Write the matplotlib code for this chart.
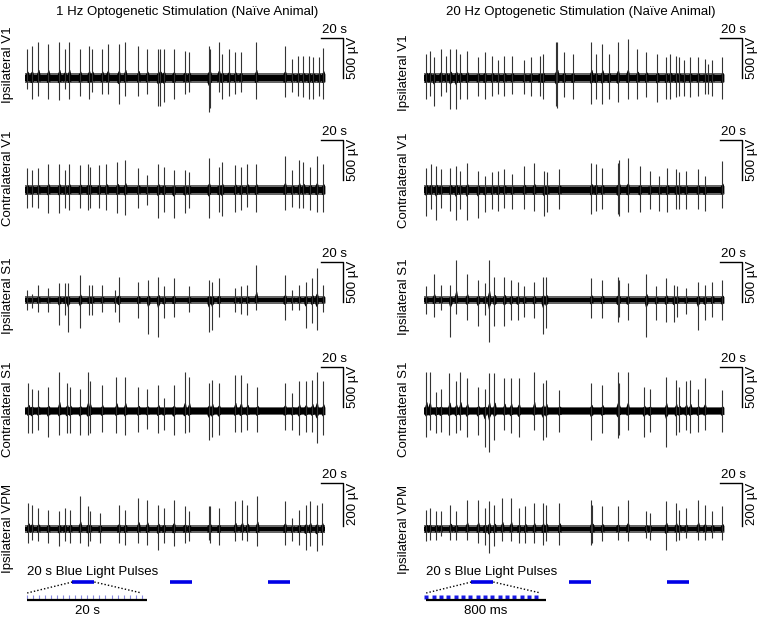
import numpy as np
import matplotlib.pyplot as plt

# -------------------- Font settings ---------------------
font_size = 9.5
plt.rcParams['font.family'] = ['Liberation Sans', 'DejaVu Sans']

# ================= Data =================
trace_len = 272.7          # s shown per trace
pulse_onsets = [43, 132, 221]   # s, blue light epochs
pulse_dur = 20                  # s
n_pulses_1hz = 20               # pulses in a 20 s epoch at 1 Hz
n_pulses_20hz = 16              # pulses in 800 ms at 20 Hz

# spike events: (time s, upward peak uV, downward peak uV)
ipsi_v1_1hz = [(2, 360, 140), (6, 400, 260), (12, 450, 220), (21, 430, 260), (31, 450, 280),
               (36, 360, 140), (40, 450, 260), (50, 360, 220), (58, 400, 260), (61, 360, 180),
               (70, 360, 200), (75, 430, 200), (85, 430, 330), (91, 450, 220), (103, 400, 220),
               (111, 360, 200), (121, 360, 350), (123, 360, 350), (126, 360, 300), (135, 360, 260),
               (145, 340, 200), (149, 320, 180), (167, 400, 430), (168, 360, 370), (176, 450, 180),
               (179, 300, 260), (185, 360, 220), (191, 320, 200), (196, 320, 180), (210, 450, 260),
               (236, 400, 240), (243, 240, 180), (248, 280, 220), (253, 280, 240), (258, 280, 260),
               (262, 260, 260), (267, 260, 220), (271, 380, 260)]
ipsi_v1_20hz = [(2, 300, 260), (5, 340, 220), (9, 260, 350), (15, 360, 220), (20, 280, 180),
                (24, 360, 390), (29, 360, 390), (33, 300, 260), (39, 340, 260), (49, 260, 220),
                (55, 320, 260), (62, 280, 220), (67, 220, 200), (73, 280, 220), (80, 280, 200),
                (91, 220, 200), (97, 260, 220), (105, 280, 220), (108, 300, 260), (120, 450, 350),
                (121, 450, 370), (127, 320, 240), (135, 300, 260), (152, 450, 330), (156, 300, 260),
                (162, 430, 330), (168, 300, 260), (176, 450, 300), (185, 490, 260), (194, 360, 260),
                (202, 320, 240), (212, 300, 300), (220, 260, 260), (224, 300, 260), (229, 280, 240),
                (232, 260, 220), (236, 220, 220), (242, 260, 240), (249, 260, 220), (255, 240, 200),
                (258, 180, 200), (262, 220, 220), (271, 260, 260)]
contra_v1_1hz = [(2, 270, 230), (6, 250, 210), (12, 270, 230), (21, 330, 290), (31, 330, 290),
                 (36, 250, 230), (40, 330, 250), (50, 310, 230), (57, 330, 250), (59, 290, 230),
                 (67, 310, 230), (74, 330, 250), (84, 350, 290), (91, 380, 310), (103, 270, 230),
                 (111, 190, 190), (121, 330, 350), (126, 290, 270), (135, 250, 350), (145, 250, 290),
                 (149, 230, 230), (167, 400, 350), (176, 290, 270), (179, 350, 330), (191, 310, 270),
                 (196, 290, 250), (202, 330, 210), (210, 330, 270), (236, 420, 250), (243, 250, 210),
                 (249, 380, 230), (253, 350, 230), (259, 290, 250), (265, 420, 270), (271, 330, 270)]
contra_v1_20hz = [(2, 280, 330), (6, 320, 240), (11, 300, 370), (15, 260, 220), (24, 280, 260),
                  (29, 300, 370), (33, 240, 240), (39, 340, 370), (49, 240, 350), (55, 180, 280),
                  (62, 220, 240), (67, 240, 260), (73, 260, 220), (80, 200, 240), (91, 300, 240),
                  (100, 340, 260), (109, 240, 330), (112, 220, 280), (123, 260, 240), (152, 340, 300),
                  (156, 320, 260), (162, 280, 240), (176, 340, 300), (177, 380, 330), (185, 400, 280),
                  (196, 300, 280), (205, 240, 240), (214, 180, 260), (221, 280, 280), (229, 260, 240),
                  (232, 220, 240), (238, 240, 240), (249, 260, 240), (255, 180, 260), (271, 360, 220)]
ipsi_s1_1hz = [(2, 130, 130), (6, 80, 100), (12, 190, 150), (21, 150, 150), (31, 210, 310),
               (36, 210, 190), (39, 210, 400), (50, 310, 350), (58, 190, 190), (61, 190, 190),
               (70, 190, 150), (82, 130, 150), (85, 290, 270), (103, 230, 230), (112, 250, 420),
               (121, 290, 460), (126, 170, 230), (135, 270, 210), (149, 170, 150), (167, 250, 400),
               (170, 230, 380), (176, 270, 210), (191, 150, 150), (196, 170, 170), (202, 190, 190),
               (210, 440, 130), (236, 310, 250), (243, 130, 130), (249, 190, 130), (255, 230, 350),
               (261, 270, 290), (265, 400, 380), (271, 190, 150)]
ipsi_s1_20hz = [(2, 170, 170), (9, 330, 210), (15, 190, 130), (24, 190, 460), (29, 500, 170),
                (39, 330, 250), (49, 250, 330), (55, 210, 190), (59, 500, 520), (64, 290, 330),
                (73, 290, 330), (79, 250, 250), (85, 230, 250), (91, 170, 210), (100, 230, 230),
                (108, 290, 420), (111, 290, 350), (152, 270, 230), (162, 250, 230), (176, 290, 270),
                (177, 250, 210), (185, 210, 250), (202, 330, 460), (211, 170, 250), (220, 270, 270),
                (227, 190, 270), (230, 170, 210), (238, 150, 170), (249, 230, 380), (255, 190, 250),
                (262, 230, 210), (271, 250, 250)]
contra_s1_1hz = [(3, 350, 280), (6, 280, 280), (12, 260, 240), (21, 300, 320), (31, 490, 300),
                 (38, 350, 280), (41, 300, 280), (50, 280, 300), (57, 490, 300), (59, 370, 280),
                 (70, 330, 260), (83, 430, 280), (91, 430, 300), (103, 300, 260), (111, 280, 220),
                 (121, 330, 280), (126, 160, 240), (135, 330, 300), (145, 490, 280), (149, 430, 260),
                 (167, 350, 360), (170, 390, 320), (176, 350, 300), (191, 450, 260), (196, 450, 260),
                 (202, 350, 240), (211, 300, 260), (236, 350, 240), (243, 220, 240), (249, 370, 300),
                 (255, 370, 260), (261, 390, 260), (265, 490, 400), (271, 370, 300)]
contra_s1_20hz = [(2, 490, 320), (5, 490, 240), (11, 240, 280), (15, 280, 260), (23, 470, 300),
                  (29, 370, 280), (33, 490, 240), (39, 410, 320), (49, 300, 300), (55, 280, 450),
                  (59, 470, 510), (64, 470, 360), (73, 410, 240), (79, 410, 280), (86, 410, 320),
                  (100, 490, 240), (108, 350, 360), (111, 390, 320), (123, 260, 260), (152, 350, 360),
                  (162, 330, 280), (176, 490, 340), (177, 350, 300), (185, 490, 240), (200, 300, 320),
                  (205, 280, 260), (220, 430, 450), (229, 390, 300), (232, 300, 260), (238, 370, 240),
                  (242, 390, 280), (249, 280, 260), (255, 410, 240), (271, 260, 260)]
ipsi_vpm_1hz = [(3, 120, 65), (6, 113, 50), (12, 98, 57), (21, 90, 65), (31, 82, 81),
                (36, 98, 57), (41, 90, 65), (50, 152, 65), (57, 105, 81), (59, 82, 57),
                (68, 74, 65), (85, 113, 65), (91, 90, 73), (103, 144, 65), (111, 136, 73),
                (121, 113, 96), (126, 98, 65), (135, 136, 81), (145, 105, 65), (149, 82, 57),
                (167, 105, 50), (168, 105, 65), (176, 98, 73), (191, 129, 57), (197, 136, 50),
                (202, 113, 57), (211, 152, 81), (236, 129, 73), (243, 51, 57), (249, 90, 73),
                (255, 113, 96), (259, 129, 81), (265, 113, 104), (270, 121, 73)]
ipsi_vpm_20hz = [(2, 90, 57), (5, 98, 50), (11, 82, 50), (15, 82, 34), (24, 113, 50),
                 (29, 82, 50), (39, 136, 50), (49, 136, 65), (55, 98, 73), (59, 129, 112),
                 (64, 113, 81), (71, 144, 57), (79, 144, 57), (86, 98, 65), (92, 105, 65),
                 (100, 121, 65), (108, 121, 73), (111, 113, 57), (123, 121, 73), (152, 136, 73),
                 (153, 113, 65), (162, 105, 57), (176, 105, 50), (185, 136, 57), (202, 82, 42),
                 (205, 74, 50), (220, 129, 96), (229, 121, 57), (232, 90, 50), (238, 98, 42),
                 (249, 136, 50), (255, 113, 50), (262, 82, 42), (271, 105, 50)]

titles = ['1 Hz Optogenetic Stimulation (Naïve Animal)',
          '20 Hz Optogenetic Stimulation (Naïve Animal)']
row_labels = ['Ipsilateral V1', 'Contralateral V1', 'Ipsilateral S1',
              'Contralateral S1', 'Ipsilateral VPM']
scale_uv = [500, 500, 500, 500, 200]
noise_uv = [50, 50, 40, 45, 16]
inset_labels = ['20 s', '800 ms']

traces = [[ipsi_v1_1hz, contra_v1_1hz, ipsi_s1_1hz, contra_s1_1hz, ipsi_vpm_1hz],
          [ipsi_v1_20hz, contra_v1_20hz, ipsi_s1_20hz, contra_s1_20hz, ipsi_vpm_20hz]]

# ================= Layout (pixels) =================
W, H = 762, 617
fig = plt.figure(figsize=(W / 100, H / 100), dpi=100)


def px_axes(x0, top, w, h):
    ax = fig.add_axes([x0 / W, 1 - (top + h) / H, w / W, h / H])
    ax.set_axis_off()
    return ax


panel_x = [25, 424]
baselines = [78, 190, 300, 411, 529]
bar_offset = [0, 125, -25, 50, 15]       # uV, bottom of vertical scale bar
label_y = [[65, 178, 296, 409, 528], [73, 180, 297, 409, 529]]
label_x = [8, 404]
title_x = [187, 581]

for p in range(2):
    fig.text(title_x[p] / W, 1 - 12 / H, titles[p], ha='center', va='center',
             fontsize=font_size)
    for r in range(5):
        ax = px_axes(panel_x[p], baselines[r] - 50, 300, 100)
        upx = scale_uv[r] / 40 if r < 4 else scale_uv[r] / 43   # uV per pixel
        ax.set_xlim(0, trace_len)
        ax.set_ylim(-50 * upx, 50 * upx)

        ev = np.array(traces[p][r], dtype=float)
        t, up, dn = ev[:, 0], ev[:, 1], ev[:, 2]
        nz = noise_uv[r]

        # background activity band
        ax.fill_between([0, trace_len], -nz * 1.15, nz * 1.15, color='0.4', lw=0)
        ax.fill_between([0, trace_len], -nz * 0.7, nz * 0.7, color='black', lw=0)
        # bursts around each discharge
        for ti, u, d in zip(t, up, dn):
            ax.fill_between([ti - 1.6, ti - 0.4, ti + 0.6, ti + 1.6],
                            [-nz, -0.22 * d, -0.15 * d, -nz],
                            [nz, 0.2 * u, 0.24 * u, nz], color='black', lw=0)
        # spikes
        ax.vlines(t, -dn, up, color='0.2', lw=0.8)

        # scale bars
        b0 = bar_offset[r]
        ax.plot([269, 289, 289], [b0 + scale_uv[r], b0 + scale_uv[r], b0],
                color='black', lw=1, clip_on=False)
        ax.text(281, b0 + scale_uv[r] + 2 * upx, '20 s', ha='center', va='bottom',
                fontsize=font_size)
        ax.text(298, b0 + scale_uv[r] / 2, f'{scale_uv[r]} µV', rotation=90,
                ha='center', va='center', fontsize=font_size)

        fig.text(label_x[p] / W, 1 - label_y[p][r] / H, row_labels[r], rotation=90,
                 ha='center', va='center', fontsize=font_size)

    # ---- light pulse annotation ----
    pax = px_axes(panel_x[p], 565, 300, 52)
    pax.set_xlim(0, trace_len)
    pax.set_ylim(617, 565)
    pax.text(2, 572, '20 s Blue Light Pulses', ha='left', va='center', fontsize=font_size)
    for on in pulse_onsets:
        pax.plot([on, on + pulse_dur], [582, 582], color='#0000e6', lw=2.6,
                 solid_capstyle='butt')
    x_lo, x_hi, x_line = 2, 106, 111
    pax.plot([pulse_onsets[0], x_lo], [582, 593], color='black', lw=1, ls=(0, (1, 1.5)))
    pax.plot([pulse_onsets[0] + pulse_dur, x_hi], [582, 593], color='black', lw=1,
             ls=(0, (1, 1.5)))
    if p == 0:
        ticks = np.linspace(x_lo, x_hi, n_pulses_1hz)
        pax.vlines(ticks, 595, 599, color='#8a8ae0', lw=0.8)
    else:
        ticks = np.linspace(x_lo, x_hi - 4, n_pulses_20hz)
        pax.plot(ticks, [597] * len(ticks), ls='none', marker='s', ms=2.2,
                 color='#1a1ae6', mec='none')
    pax.plot([x_lo, x_line], [600.5, 600.5], color='black', lw=1.6, solid_capstyle='butt')
    pax.text((x_lo + x_line) / 2, 611, inset_labels[p], ha='center', va='center',
             fontsize=font_size)

plt.savefig('out.png', dpi=100)
